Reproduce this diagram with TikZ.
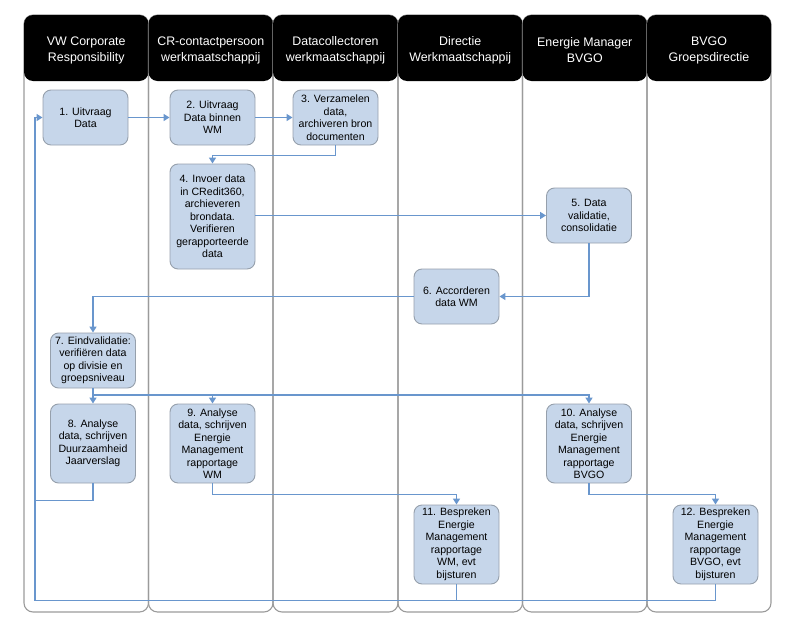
\documentclass[tikz,border=0pt]{standalone}
\usepackage{fontspec}
\setmainfont{Liberation Sans}
\usetikzlibrary{arrows.meta}
\definecolor{boxfill}{RGB}{198,214,234}
\definecolor{boxline}{RGB}{150,160,172}
\definecolor{flow}{RGB}{105,150,205}
\definecolor{laneline}{RGB}{155,155,155}
\begin{document}
\begin{tikzpicture}[x=1pt,y=-1pt,
 lanebox/.style={draw=laneline, line width=1.1pt, rounded corners=9pt},
 head/.style={fill=black, rounded corners=9pt},
 headtext/.style={text=white, font=\fontsize{12.4}{16}\selectfont, align=center, inner sep=0pt},
 proc/.style={draw=boxline, fill=boxfill, rounded corners=8pt, line width=0.9pt, minimum width=85pt, align=center, font=\fontsize{10.6}{12.5}\selectfont, inner sep=0pt},
 flowplain/.style={draw=flow, line width=1.8pt},
 flowline/.style={flowplain, -{Triangle[length=6pt,width=7pt]}}
]
\useasboundingbox (0,0) rectangle (812,640);
% lanes
\foreach \a/\b in {24/148.5,148.5/273,273/398,398/522.5,522.5/647,647/771}{
  \draw[lanebox] (\a,15) rectangle (\b,612);
  \fill[head] (\a,15) rectangle (\b,81);
}
\node[headtext] (h1) at (86.25,50) {VW Corporate\\Responsibility};
\node[headtext] (h2) at (210.75,50) {CR-contactpersoon\\werkmaatschappij};
\node[headtext] (h3) at (335.5,50) {Datacollectoren\\werkmaatschappij};
\node[headtext] (h4) at (460.25,50) {Directie\\Werkmaatschappij};
\node[headtext] (h5) at (584.75,50) {Energie Manager\\BVGO};
\node[headtext] (h6) at (709,50) {BVGO\\Groepsdirectie};
% process boxes
\node[proc, minimum height=55pt] (b1) at (85.5,117.5) {1. Uitvraag\\Data};
\node[proc, minimum height=55pt] (b2) at (212.5,117.5) {2. Uitvraag\\Data binnen\\WM};
\node[proc, minimum height=55pt] (b3) at (335.5,117.5) {3. Verzamelen\\data,\\archiveren bron\\documenten};
\node[proc, minimum height=105pt] (b4) at (212.5,216.5) {4. Invoer data\\in CRedit360,\\archieveren\\brondata.\\Verifieren\\gerapporteerde\\data};
\node[proc, minimum height=55pt] (b5) at (589,215.5) {5. Data\\validatie,\\consolidatie};
\node[proc, minimum height=55pt] (b6) at (456.5,296.5) {6. Accorderen\\data WM};
\node[proc, minimum height=55pt] (b7) at (93,360.5) {7. Eindvalidatie:\\verifiëren data\\op divisie en\\groepsniveau};
\node[proc, minimum height=79pt] (b8) at (93,443.5) {8. Analyse\\data, schrijven\\Duurzaamheid\\Jaarverslag};
\node[proc, minimum height=79pt] (b9) at (212.5,443.5) {9. Analyse\\data, schrijven\\Energie\\Management\\rapportage\\WM};
\node[proc, minimum height=79pt] (b10) at (589,443.5) {10. Analyse\\data, schrijven\\Energie\\Management\\rapportage\\BVGO};
\node[proc, minimum height=79pt] (b11) at (456.5,544.5) {11. Bespreken\\Energie\\Management\\rapportage\\WM, evt\\bijsturen};
\node[proc, minimum height=79pt] (b12) at (715.5,544.5) {12. Bespreken\\Energie\\Management\\rapportage\\BVGO, evt\\bijsturen};
% helper coordinates
\coordinate (rl) at (35,600.5);
\coordinate (r8) at (35,500.5);
\coordinate (split) at (93,395);
% connectors
\draw[flowline] (b1.east) -- (b2.west);
\draw[flowline] (b2.east) -- (b3.west);
\draw[flowline] (b3.south) -- ++(0,10) -| (b4.north);
\draw[flowline] (b5.west -| b4.east) -- (b5.west);
\draw[flowline] (b5.south) |- (b6.east);
\draw[flowline] (b6.west) -| (b7.north);
\draw[flowline] (b7.south) -- (b8.north);
\draw[flowline] (split) -| (b9.north);
\draw[flowline] (split) -| (b10.north);
\draw[flowline] (b9.south) -- ++(0,11) -| (b11.north);
\draw[flowline] (b10.south) -- ++(0,11) -| (b12.north);
\draw[flowline] (b11.south) |- (rl) -- (rl |- b1.west) -- (b1.west);
\draw[flowplain] (b12.south) |- (b11.south |- rl);
\draw[flowplain] (b8.south) |- (r8);
\end{tikzpicture}
\end{document}
